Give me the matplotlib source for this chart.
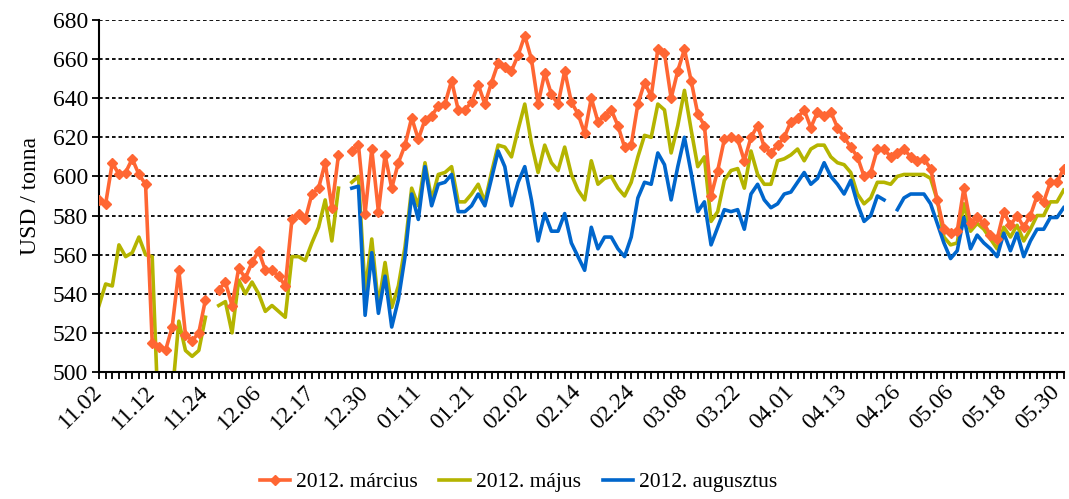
import numpy as np
import matplotlib.pyplot as plt
mpl_config = {
    'font.family': 'serif',
    'font.serif': ['Liberation Serif', 'DejaVu Serif'],
    'font.size': 17,
}
plt.rcParams.update(mpl_config)
del mpl_config

# tick labels (every 8th trading day)
date_labels = ['11.02', '11.12', '11.24', '12.06', '12.17', '12.30', '01.11', '01.21',
               '02.02', '02.14', '02.24', '03.08', '03.22', '04.01', '04.13', '04.26',
               '05.06', '05.18', '05.30']

# USD/tonna, None = no quote
marcius = [588, 586, 607, 601, 602, 609, 601, 596, 515, 513, 511, 523, 552, 519, 516, 520,
           537, None, 542, 546, 534, 553, 548, 556, 562, 552, 552, 549, 544, 578, 581, 578,
           591, 594, 607, 584, 611, None, 613, 616, 581, 614, 582, 611, 594, 607, 616, 630,
           619, 629, 631, 636, 637, 649, 634, 634, 638, 647, 637, 648, 658, 656, 654, 662,
           672, 660, 637, 653, 642, 637, 654, 638, 632, 622, 640, 628, 631, 634, 626, 615,
           616, 637, 648, 641, 665, 663, 640, 654, 665, 649, 632, 626, 590, 603, 619, 620,
           619, 608, 620, 626, 615, 612, 616, 620, 628, 630, 634, 625, 633, 631, 633, 625,
           620, 615, 610, 600, 602, 614, 614, 610, 612, 614, 610, 608, 609, 604, 588, 573,
           571, 572, 594, 576, 579, 576, 570, 568, 582, 575, 580, 574, 580, 590, 587, 597,
           597, 604]

majus = [534, 545, 544, 565, 559, 561, 569, 560, 559, 470, 470, 488, 526, 511, 508, 511,
         528, None, 534, 536, 520, 547, 540, 546, 540, 531, 534, 531, 528, 559, 559, 557,
         566, 574, 588, 567, 594, None, 597, 600, 541, 568, 534, 556, 533, 544, 564, 594,
         585, 607, 588, 601, 602, 605, 587, 587, 591, 596, 587, 602, 616, 615, 610, 624,
         637, 617, 602, 616, 607, 603, 615, 601, 593, 588, 608, 596, 599, 600, 594, 590,
         597, 610, 621, 620, 637, 634, 612, 626, 644, 624, 605, 610, 577, 582, 598, 603,
         604, 594, 613, 601, 596, 596, 608, 609, 611, 614, 608, 614, 616, 616, 610, 607,
         606, 602, 591, 586, 589, 597, 597, 596, 600, 601, 601, 601, 601, 599, 588, 569,
         565, 566, 586, 572, 576, 573, 568, 563, 574, 569, 575, 567, 573, 580, 580, 587,
         587, 593]

augusztus = [None] * 38 + [
    594, 595, 529, 561, 530, 549, 523, 537, 559, 591,
    578, 605, 585, 596, 597, 601, 582, 582, 585, 591, 585, 599, 613, 605, 585, 597,
    605, 588, 567, 581, 572, 572, 581, 566, 559, 552, 574, 563, 569, 569, 563, 559,
    569, 589, 597, 596, 612, 606, 588, 605, 620, 602, 582, 587, 565, 574, 583, 582,
    583, 573, 591, 596, 588, 584, 586, 591, 592, 597, 602, 596, 599, 607, 600, 596,
    591, 598, 586, 577, 580, 590, 588, None, 583, 589, 591, 591, 591, 586, 576, 566,
    558, 562, 579, 563, 570, 566, 563, 559, 571, 562, 571, 559, 567, 573, 573, 579,
    579, 584]

if __name__ == '__main__':
    x = np.arange(len(marcius))
    y1 = np.array(marcius, dtype=float)
    y2 = np.array(majus, dtype=float)
    y3 = np.array(augusztus, dtype=float)

    fig = plt.figure(figsize=(10.69, 4.99), dpi=100)
    ax = fig.add_axes([0.0926, 0.2545, 0.9024, 0.7055])

    ax.plot(x, y1, color='#FF6633', linewidth=2.6, marker='D', markersize=5,
            label='2012. március', zorder=3)
    ax.plot(x, y2, color='#B4B400', linewidth=2.6, label='2012. május', zorder=2)
    ax.plot(x, y3, color='#0066CC', linewidth=2.6, label='2012. augusztus', zorder=2)

    ax.set_xlim(0, len(x) - 1)
    ax.set_ylim(500, 680)
    ax.set_yticks(np.arange(500, 681, 20))
    ax.grid(axis='y', color='black', linestyle=(0, (2, 1.6)), linewidth=1.3)
    ax.set_axisbelow(True)

    ax.set_xticks(np.arange(0, len(x), 8))
    ax.set_xticklabels(date_labels, rotation=45, ha='right', va='center',
                       rotation_mode='anchor')
    ax.set_xticks(x, minor=True)
    ax.tick_params(axis='x', which='both', direction='out', length=5, width=1.3,
                   pad=7)
    ax.tick_params(axis='y', direction='out', length=5, width=1.3, pad=3)

    for s in ['top', 'right']:
        ax.spines[s].set_visible(False)
    for s in ['left', 'bottom']:
        ax.spines[s].set_linewidth(1.5)

    ax.set_ylabel('USD / tonna', labelpad=8)

    fig.legend(loc='lower center', bbox_to_anchor=(0.485, -0.025), ncol=3,
               frameon=False, handlelength=1.4, handletextpad=0.3,
               columnspacing=1.0, fontsize=15.5)

    plt.savefig('out.png', dpi=100)
